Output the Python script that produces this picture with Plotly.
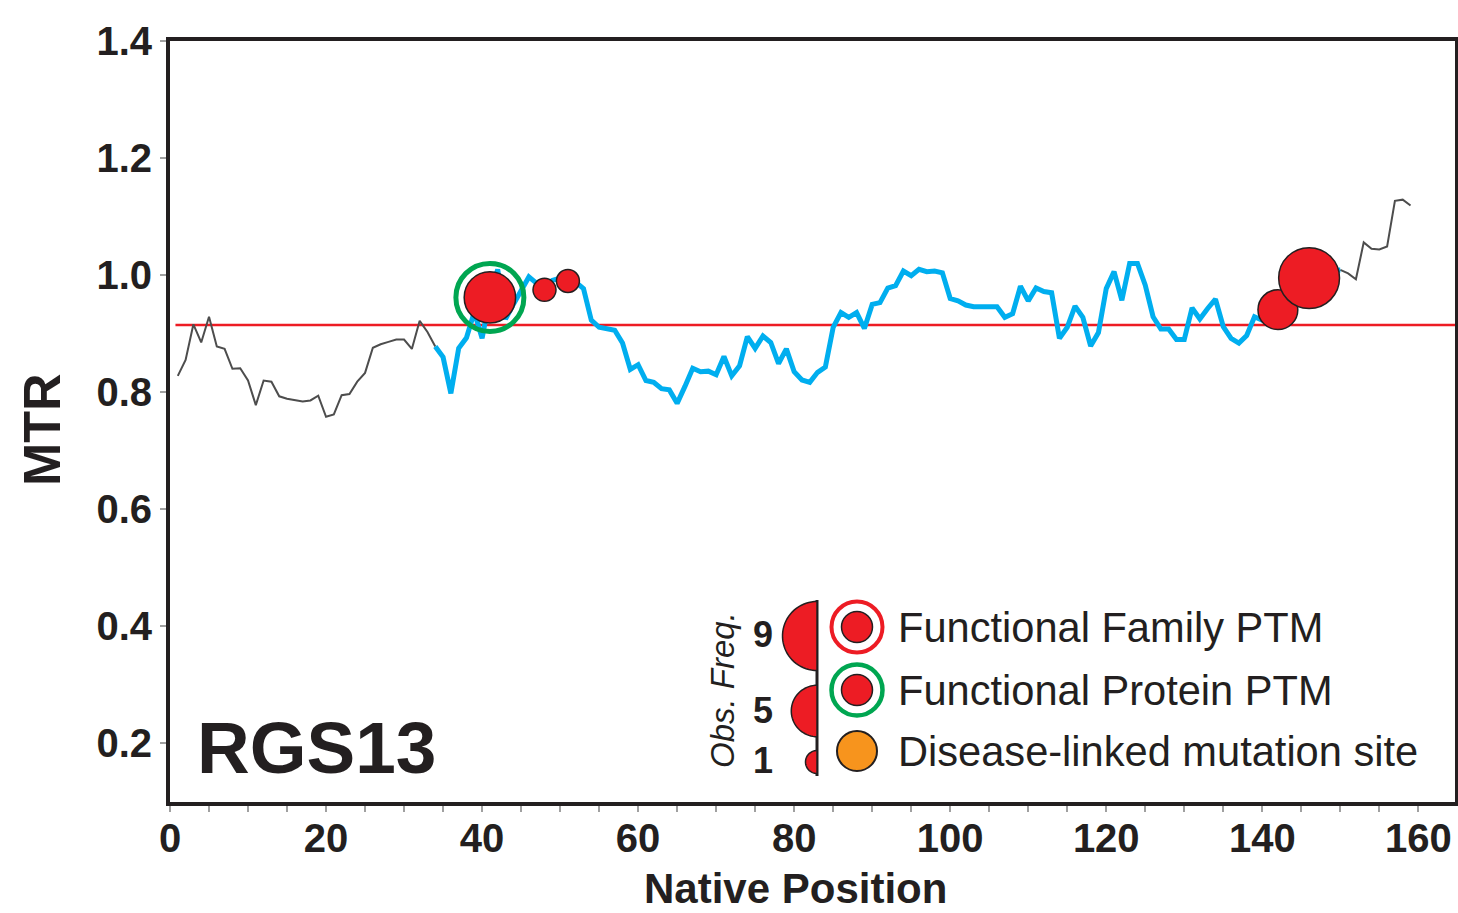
import numpy as np
import plotly.graph_objects as go

# ---------------- data ----------------
positions = list(range(1, 160))
mtr = [
    0.828, 0.855, 0.916, 0.885, 0.929, 0.878, 0.874, 0.840, 0.841, 0.820,   # 1-10
    0.778, 0.820, 0.818, 0.793, 0.789, 0.787, 0.784, 0.786, 0.794, 0.758,   # 11-20
    0.762, 0.795, 0.797, 0.818, 0.833, 0.876, 0.882, 0.886, 0.890, 0.890,   # 21-30
    0.874, 0.922, 0.903, 0.878, 0.860, 0.798, 0.875, 0.893, 0.937, 0.892,   # 31-40
    0.962, 1.010, 0.925, 0.950, 0.975, 0.997, 0.986, 0.975, 0.991, 0.995,   # 41-50
    0.990, 0.988, 0.977, 0.923, 0.911, 0.909, 0.906, 0.884, 0.839, 0.847,   # 51-60
    0.820, 0.817, 0.806, 0.804, 0.781, 0.810, 0.841, 0.835, 0.836, 0.830,   # 61-70
    0.861, 0.828, 0.845, 0.895, 0.875, 0.896, 0.885, 0.849, 0.874, 0.835,   # 71-80
    0.821, 0.817, 0.834, 0.843, 0.911, 0.936, 0.928, 0.936, 0.909, 0.950,   # 81-90
    0.953, 0.978, 0.982, 1.007, 0.999, 1.010, 1.006, 1.007, 1.004, 0.960,   # 91-100
    0.956, 0.949, 0.946, 0.946, 0.946, 0.946, 0.928, 0.934, 0.981, 0.956,   # 101-110
    0.978, 0.972, 0.970, 0.892, 0.911, 0.947, 0.928, 0.879, 0.902, 0.977,   # 111-120
    1.006, 0.957, 1.020, 1.020, 0.983, 0.929, 0.908, 0.908, 0.890, 0.890,   # 121-130
    0.944, 0.925, 0.943, 0.959, 0.912, 0.892, 0.884, 0.897, 0.929, 0.923,   # 131-140
    0.930, 0.941, 0.960, 0.975, 0.985, 0.995, 1.000, 1.005, 1.008, 1.009,   # 141-150
    1.003, 0.993, 1.056, 1.045, 1.044, 1.049, 1.127, 1.129, 1.119,          # 151-159
]
domain_start, domain_end = 34, 150          # highlighted (blue) region
ptm_positions = [41, 48, 51, 142, 146]
ptm_obs_freq = [5, 1, 1, 3, 7]
protein_functional_ptm = [41]
mtr_threshold = 0.915
threshold_span = [0.7, 164.7]

x_tick_vals = [0, 20, 40, 60, 80, 100, 120, 140, 160]
y_tick_vals = [0.2, 0.4, 0.6, 0.8, 1.0, 1.2, 1.4]
legend_freqs = [9, 5, 1]
legend_labels = ["Functional Family PTM", "Functional Protein PTM",
                 "Disease-linked mutation site"]
protein_name = "RGS13"

# ---------------- styles ----------------
BLUE = "#00AEEF"
RED = "#ED1C24"
GREEN = "#00A651"
ORANGE = "#F7941D"
GRAY = "#4D4D4D"
INK = "#231F20"
FONT = "Liberation Sans"
R_SCALE = 11.5   # px radius per sqrt(frequency)

def radius(freq):
    return R_SCALE * np.sqrt(freq)

def val_at(p):
    return mtr[positions.index(p)]

fig = go.Figure()

# threshold line
fig.add_trace(go.Scatter(x=threshold_span, y=[mtr_threshold, mtr_threshold],
                         mode="lines", line=dict(color=RED, width=2.5),
                         hoverinfo="skip", showlegend=False))

# gray parts
i0 = positions.index(domain_start)
i1 = positions.index(domain_end)
fig.add_trace(go.Scatter(x=positions[:i0 + 1], y=mtr[:i0 + 1], mode="lines",
                         line=dict(color=GRAY, width=2), showlegend=False))
fig.add_trace(go.Scatter(x=positions[i1:], y=mtr[i1:], mode="lines",
                         line=dict(color=GRAY, width=2), showlegend=False))
# blue part
fig.add_trace(go.Scatter(x=positions[i0:i1 + 1], y=mtr[i0:i1 + 1], mode="lines",
                         line=dict(color=BLUE, width=5), showlegend=False))

# PTM bubbles
fig.add_trace(go.Scatter(
    x=ptm_positions, y=[val_at(p) for p in ptm_positions], mode="markers",
    marker=dict(size=[2 * radius(f) for f in ptm_obs_freq], color=RED,
                line=dict(color=INK, width=1.5), opacity=1),
    showlegend=False))

# functional protein PTM ring
fig.add_trace(go.Scatter(
    x=protein_functional_ptm, y=[val_at(p) for p in protein_functional_ptm],
    mode="markers",
    marker=dict(symbol="circle-open", size=68, color=GREEN,
                line=dict(color=GREEN, width=5)),
    showlegend=False))

# ---------------- custom legend ----------------
ML, MR, MT, MB = 170, 3, 41, 111
W, H = 1458, 913
PW, PH = W - ML - MR, H - MT - MB
X0, PX = float(ML), PW / 164.7
Y_TOP_PX, PY = float(MT), PH / 1.3

def dx(px):
    return (px - X0) / PX

def dy(py):
    return 1.4 - (py - Y_TOP_PX) / PY

def paper_x(px):
    return (px - ML) / PW

def paper_y(py):
    return (H - MB - py) / PH

shapes = []
# vertical divider
shapes.append(dict(type="line", xref="x", yref="y", x0=dx(817), x1=dx(817),
                   y0=dy(600), y1=dy(776), line=dict(color=INK, width=3)))
# half circles
half_centers_py = [636, 711, 762]
for f, cy in zip(legend_freqs, half_centers_py):
    r = radius(f)
    t = np.linspace(-np.pi / 2, np.pi / 2, 40)
    xs = -r * np.cos(t)
    ys = r * np.sin(t)
    path = "M " + " L ".join(f"{a:.2f},{b:.2f}" for a, b in zip(xs, ys)) + " Z"
    shapes.append(dict(type="path", xref="x", yref="y", xsizemode="pixel",
                       ysizemode="pixel", xanchor=dx(817), yanchor=dy(cy),
                       path=path, fillcolor=RED, line=dict(color=INK, width=1.5),
                       layer="above"))

annotations = []
label_py = [634, 710, 760]
for f, cy in zip(legend_freqs, label_py):
    annotations.append(dict(x=dx(763), y=dy(cy), xref="x", yref="y", text=str(f),
                            showarrow=False, xanchor="center", yanchor="middle",
                            font=dict(family=FONT, size=36, color=INK, weight="bold")))
annotations.append(dict(x=dx(722), y=dy(690), xref="x", yref="y",
                        text="<i>Obs. Freq.</i>", textangle=-90, showarrow=False,
                        xanchor="center", yanchor="middle",
                        font=dict(family=FONT, size=33, color=INK)))

leg_py = [627, 690, 751]
lx = dx(857)
# ring symbols
fig.add_trace(go.Scatter(x=[lx], y=[dy(leg_py[0])], mode="markers",
                         marker=dict(symbol="circle-open", size=51, color=RED,
                                     line=dict(color=RED, width=4)),
                         showlegend=False))
fig.add_trace(go.Scatter(x=[lx], y=[dy(leg_py[1])], mode="markers",
                         marker=dict(symbol="circle-open", size=51, color=GREEN,
                                     line=dict(color=GREEN, width=4.5)),
                         showlegend=False))
fig.add_trace(go.Scatter(x=[lx, lx], y=[dy(leg_py[0]), dy(leg_py[1])], mode="markers",
                         marker=dict(size=31, color=RED, line=dict(color=INK, width=1.5)),
                         showlegend=False))
fig.add_trace(go.Scatter(x=[lx], y=[dy(leg_py[2])], mode="markers",
                         marker=dict(size=40, color=ORANGE, line=dict(color=INK, width=2)),
                         showlegend=False))
for lab, cy in zip(legend_labels, leg_py):
    annotations.append(dict(x=dx(896), y=dy(cy), xref="x", yref="y", text=lab,
                            xanchor="left", yanchor="middle", showarrow=False,
                            font=dict(family=FONT, size=41.6, color=INK)))

# titles
annotations.append(dict(x=paper_x(42), y=paper_y(430), xref="paper", yref="paper",
                        text="MTR", textangle=-90, showarrow=False,
                        xanchor="center", yanchor="middle",
                        font=dict(family=FONT, size=52, color=INK, weight="bold")))
annotations.append(dict(x=paper_x(795), y=paper_y(889), xref="paper", yref="paper",
                        text="Native Position", showarrow=False,
                        xanchor="center", yanchor="middle",
                        font=dict(family=FONT, size=42, color=INK, weight="bold")))
annotations.append(dict(x=paper_x(316), y=paper_y(747), xref="paper", yref="paper",
                        text=protein_name, showarrow=False,
                        xanchor="center", yanchor="middle",
                        font=dict(family=FONT, size=73, color=INK, weight="bold")))

fig.update_layout(
    width=W, height=H,
    margin=dict(l=ML, r=MR, t=MT, b=MB, autoexpand=False),
    paper_bgcolor="white", plot_bgcolor="white",
    shapes=shapes, annotations=annotations,
    showlegend=False,
)
fig.update_xaxes(range=[0, 164.7], tickvals=x_tick_vals, showgrid=False, zeroline=False,
                 showline=True, mirror=True, linewidth=4, linecolor=INK,
                 ticks="outside", ticklen=6, tickwidth=2, tickcolor="#A0A0A0",
                 ticklabelstandoff=-8,
                 minor=dict(dtick=5, tick0=0, ticks="outside", ticklen=6, tickwidth=2,
                            tickcolor="#A0A0A0"),
                 tickfont=dict(family=FONT, size=40, color=INK, weight="bold"))
fig.update_yaxes(range=[0.1, 1.4], tickvals=y_tick_vals, tickformat=".1f",
                 showgrid=False, zeroline=False,
                 showline=True, mirror=True, linewidth=4, linecolor=INK,
                 ticks="outside", ticklen=6, tickwidth=2, tickcolor="#A0A0A0",
                 tickfont=dict(family=FONT, size=40, color=INK, weight="bold"))

fig.write_html("out.html", config={"displayModeBar": False},
               post_script="document.body.style.margin='0';")
